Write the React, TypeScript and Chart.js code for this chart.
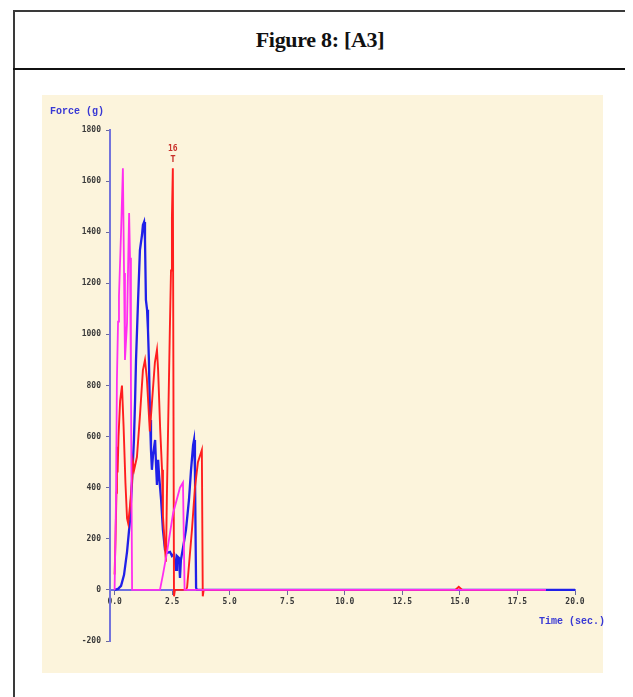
import React, { useEffect, useRef } from "react";
import { Chart, registerables } from "chart.js";

Chart.register(...registerables);

// ---- data (time in seconds, force in grams) ----
const blueTime = [0, 0.15, 0.28, 0.41, 0.54, 0.67, 0.76, 0.84, 0.89, 0.93, 1.02, 1.1, 1.19, 1.23, 1.28, 1.32, 1.36, 1.41, 1.45, 1.49, 1.54, 1.58, 1.62, 1.67, 1.76, 1.8, 1.84, 1.89, 1.93, 2.02, 2.1, 2.19, 2.28, 2.41, 2.49, 2.58, 2.67, 2.71, 2.8, 2.84, 2.88, 2.97, 3.1, 3.23, 3.32, 3.41, 3.45, 3.49, 3.54, 3.58, 20];
const blueForce = [0, 4, 16, 59, 149, 274, 430, 587, 743, 900, 1135, 1330, 1389, 1428, 1440, 1370, 1135, 1096, 1017, 900, 665, 548, 470, 528, 587, 489, 411, 509, 450, 352, 235, 157, 145, 149, 133, 141, 78, 133, 125, 47, 117, 164, 235, 352, 470, 567, 587, 470, 8, 0, 0];

const redTime = [0, 0.04, 0.08, 0.1, 0.13, 0.17, 0.24, 0.32, 0.39, 0.47, 0.54, 0.59, 0.67, 0.76, 0.8, 0.85, 0.97, 1.1, 1.23, 1.32, 1.4, 1.45, 1.53, 1.62, 1.75, 1.84, 1.89, 1.98, 2.06, 2.1, 2.19, 2.23, 2.27, 2.4, 2.45, 2.49, 2.53, 2.58, 2.62, 3.1, 3.15, 3.36, 3.49, 3.62, 3.79, 3.83, 3.87, 14.8, 14.95, 15.1, 18.7];
const redForce = [60, 200, 380, 560, 460, 600, 740, 800, 640, 420, 280, 260, 330, 430, 500, 470, 520, 680, 860, 900, 830, 750, 620, 730, 890, 940, 860, 630, 470, 290, 160, 110, 360, 1020, 1250, 1460, 1650, -25, 0, 0, 10, 235, 400, 500, 548, -25, 0, 0, 12, 0, 0];

const magentaTime = [0, 0.06, 0.1, 0.15, 0.19, 0.28, 0.36, 0.41, 0.45, 0.54, 0.63, 0.67, 0.71, 0.74, 0.76, 1.97, 2.1, 2.28, 2.54, 2.84, 2.97, 3.04, 18.74];
const magentaForce = [0, 350, 820, 1050, 1150, 1400, 1650, 1240, 900, 1045, 1475, 1300, 800, 300, 0, 0, 60, 150, 300, 400, 420, 0, 0];

const xTicks = [0, 2.5, 5, 7.5, 10, 12.5, 15, 17.5, 20];
const yTicks = [-200, 0, 200, 400, 600, 800, 1000, 1200, 1400, 1600, 1800];

const figureTitle = "Figure 8: [A3]";
const yTitle = "Force (g)";
const xTitle = "Time (sec.)";
const peakLabel = "16";

const toPoints = (t: number[], v: number[]) => t.map((x, i) => ({ x, y: v[i] }));

const peakPlugin = {
  id: "peakLabel",
  afterDatasetsDraw(chart: any) {
    const meta = chart.getDatasetMeta(1);
    const data = chart.data.datasets[1].data as { x: number; y: number }[];
    let idx = 0;
    data.forEach((p, i) => {
      if (p.y > data[idx].y) idx = i;
    });
    const el = meta.data[idx];
    if (!el) return;
    const ctx = chart.ctx;
    ctx.save();
    ctx.fillStyle = "#c8302a";
    ctx.textAlign = "center";
    ctx.textBaseline = "middle";
    ctx.font = "bold 8px 'DejaVu Sans Mono'";
    ctx.fillText(peakLabel, el.x, el.y - 19);
    ctx.font = "bold 9px 'DejaVu Sans Mono'";
    ctx.fillText("T", el.x, el.y - 9);
    ctx.restore();
  },
};

function ForceChart() {
  const ref = useRef<HTMLCanvasElement | null>(null);
  useEffect(() => {
    if (!ref.current) return;
    const chart = new Chart(ref.current, {
      type: "scatter",
      data: {
        datasets: [
          {
            label: "magenta",
            data: toPoints(magentaTime, magentaForce),
            showLine: true,
            borderColor: "#ff2ef0",
            borderWidth: 1.8,
            pointRadius: 0,
          },
          {
            label: "red",
            data: toPoints(redTime, redForce),
            showLine: true,
            borderColor: "#ff1e1e",
            borderWidth: 1.9,
            pointRadius: 0,
          },
          {
            label: "blue",
            data: toPoints(blueTime, blueForce),
            showLine: true,
            borderColor: "#2020e8",
            borderWidth: 2.3,
            pointRadius: 0,
          },
        ],
      },
      options: {
        animation: false,
        responsive: false,
        maintainAspectRatio: false,
        layout: { padding: { top: 35, right: 28, bottom: 32, left: 0 } },
        plugins: {
          legend: { display: false },
          tooltip: { enabled: false },
          title: { display: false },
        },
        scales: {
          x: {
            type: "linear",
            position: { y: 0 } as any,
            min: -0.2,
            max: 20,
            afterBuildTicks: (scale: any) => {
              scale.ticks = xTicks.map((v) => ({ value: v }));
            },
            ticks: {
              autoSkip: false,
              maxRotation: 0,
              padding: 3,
              color: "#3a3a3a",
              font: { family: "'DejaVu Sans Mono'", size: 8, weight: "bold" },
              callback: (v: any) => Number(v).toFixed(1),
            },
            grid: {
              drawOnChartArea: false,
              drawTicks: true,
              tickLength: 4,
              color: "#6a6a9a",
            },
            border: { display: true, color: "#6e6ee0", width: 2 },
          },
          y: {
            type: "linear",
            min: -200,
            max: 1800,
            afterBuildTicks: (scale: any) => {
              scale.ticks = yTicks.map((v) => ({ value: v }));
            },
            afterFit: (scale: any) => {
              scale.width = 68;
            },
            ticks: {
              padding: 5,
              color: "#3a3a3a",
              font: { family: "'DejaVu Sans Mono'", size: 8, weight: "bold" },
              callback: (v: any) => String(v),
            },
            grid: {
              drawOnChartArea: false,
              drawTicks: true,
              tickLength: 4,
              color: "#6a6a9a",
            },
            border: { display: true, color: "#7373dc", width: 2 },
          },
        },
      },
      plugins: [peakPlugin],
    });
    return () => chart.destroy();
  }, []);
  return <canvas ref={ref} width={561} height={578} style={{ display: "block", width: 561, height: 578 }} />;
}

export default function App() {
  // page coordinates minus the 8px body margin
  const off = 8;
  return (
    <div style={{ position: "relative", width: 617, height: 689, overflow: "hidden" }}>
      <div
        style={{
          position: "absolute",
          left: 13 - off,
          top: 10 - off,
          width: 614,
          height: 720,
          boxSizing: "border-box",
          border: "2px solid #3a3a3a",
          borderBottom: "none",
        }}
      />
      <div
        style={{
          position: "absolute",
          left: 13 - off,
          top: 68 - off,
          width: 614,
          height: 2,
          background: "#111",
        }}
      />
      <div
        style={{
          position: "absolute",
          left: 13 - off,
          top: 12 - off,
          width: 614,
          height: 56,
          display: "flex",
          alignItems: "center",
          justifyContent: "center",
          fontFamily: "'Liberation Serif', serif",
          fontWeight: "bold",
          fontSize: 22,
          letterSpacing: -0.3,
          color: "#111",
        }}
      >
        {figureTitle}
      </div>
      <div
        style={{
          position: "absolute",
          left: 42 - off,
          top: 95 - off,
          width: 561,
          height: 578,
          background: "#fcf4dc",
        }}
      >
        <ForceChart />
        <div
          style={{
            position: "absolute",
            left: 8,
            top: 11,
            fontFamily: "'Liberation Mono', monospace",
            fontWeight: "bold",
            fontSize: 10,
            color: "#3838d4",
            whiteSpace: "pre",
          }}
        >
          {yTitle}
        </div>
        <div
          style={{
            position: "absolute",
            left: 497,
            top: 521,
            fontFamily: "'Liberation Mono', monospace",
            fontWeight: "bold",
            fontSize: 10,
            color: "#3838d4",
            whiteSpace: "pre",
          }}
        >
          {xTitle}
        </div>
      </div>
    </div>
  );
}
